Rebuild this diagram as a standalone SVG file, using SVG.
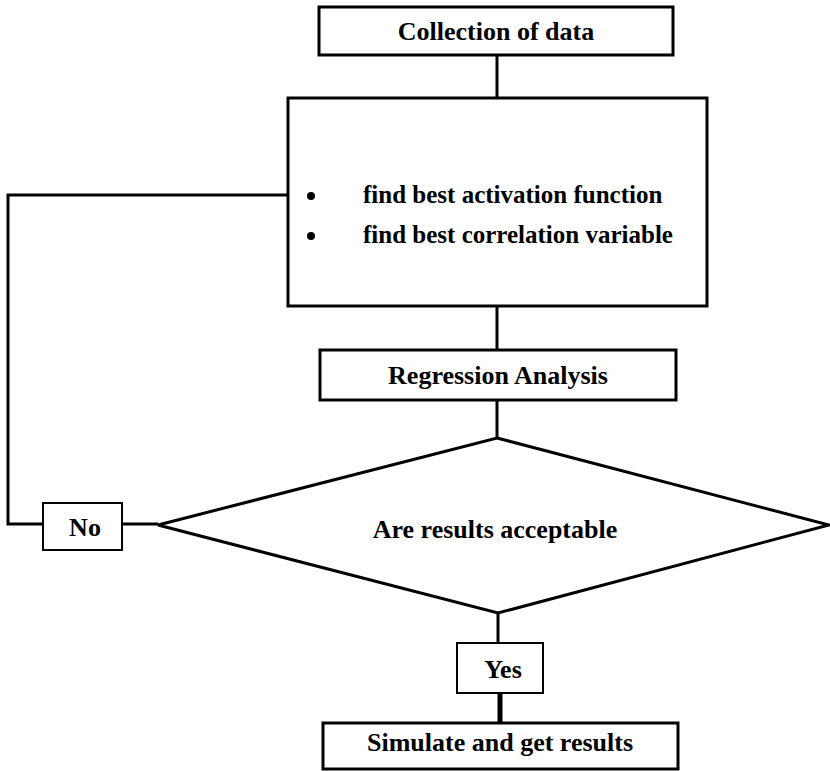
<svg xmlns="http://www.w3.org/2000/svg" width="830" height="771" viewBox="0 0 830 771">
<style>
.box{fill:#fff;stroke:#000;stroke-width:3}
.lbl{fill:#fff;stroke:#000;stroke-width:2}
.ln{fill:none;stroke:#000;stroke-width:3}
text{font-family:"Liberation Serif","Times New Roman",serif;font-weight:bold;font-size:26px;fill:#000}
.c{text-anchor:middle}
.b{font-size:25px}
</style>
<rect width="830" height="771" fill="#fff"/>
<g id="connectors">
<line class="ln" x1="497" y1="55" x2="497" y2="98"/>
<line class="ln" x1="497" y1="306" x2="497" y2="350"/>
<line class="ln" x1="497" y1="400" x2="497" y2="438"/>
<polyline class="ln" points="288,195 8,195 8,524 43,524"/>
<line class="ln" x1="122" y1="524" x2="158" y2="524"/>
<line class="ln" x1="498" y1="613" x2="498" y2="643"/>
<line x1="500" y1="693" x2="500" y2="723" stroke="#000" stroke-width="5"/>
</g>
<g id="collection">
<rect class="box" x="319" y="7" width="354" height="48"/>
<text class="c" x="496" y="40">Collection of data</text>
</g>
<g id="find">
<rect class="box" x="288" y="98" width="419" height="208"/>
<circle cx="311" cy="196" r="4"/>
<circle cx="311" cy="236" r="4"/>
<text class="b" x="363" y="203">find best activation function</text>
<text class="b" x="363" y="243">find best correlation variable</text>
</g>
<g id="regression">
<rect class="box" x="320" y="350" width="356" height="50"/>
<text class="c" x="498" y="384">Regression Analysis</text>
</g>
<g id="decision">
<polygon class="box" points="497,438 829,525 498,613 158,525"/>
<text class="c" x="495" y="538">Are results acceptable</text>
</g>
<g id="no">
<rect class="lbl" x="43" y="503" width="79" height="47"/>
<text class="c" x="85" y="536">No</text>
</g>
<g id="yes">
<rect class="lbl" x="457" y="643" width="86" height="50"/>
<text class="c" x="503" y="678">Yes</text>
</g>
<g id="simulate">
<rect class="box" x="323" y="723" width="355" height="46"/>
<text class="c" x="500" y="751">Simulate and get results</text>
</g>
</svg>
